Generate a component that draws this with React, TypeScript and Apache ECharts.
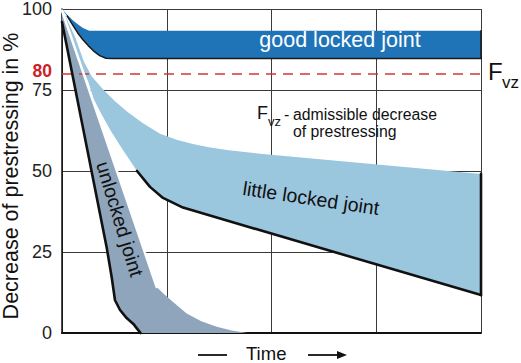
import React, { useEffect, useRef } from "react";
import * as echarts from "echarts";

// ---- data (x: time in grid units 0..4, y: decrease of prestressing in %) ----
const xTicks = [0, 1, 2, 3, 4];
const yTicks = [0, 25, 50, 75, 100];
const admissibleLevel = 80;

const goodUpper = [[0, 100], [0.05, 98.2], [0.1, 96.6], [0.15, 95.3], [0.2, 94.1], [0.26, 93.3], [4, 93.3]];
const goodLower = [[0, 100], [0.05, 97.8], [0.1, 95.2], [0.15, 92.6], [0.2, 90.5], [0.25, 88.7], [0.3, 87.1], [0.36, 85.6], [0.42, 84.8], [0.48, 84.7], [4, 84.7]];

const littleUpper = [[0.01, 99.4], [0.124, 91.4], [0.21, 83.7], [0.286, 79.1], [0.391, 75.2], [0.506, 71.5], [0.62, 68.4], [0.773, 64.7], [0.936, 61.5], [1.1, 59.6], [1.25, 58.3], [1.4, 57.3], [1.575, 56.5], [1.89, 55.3], [4, 49.1]];
const littleLower = [[0.01, 99.4], [0.11, 89.9], [0.19, 82.2], [0.25, 77.6], [0.3, 72.4], [0.372, 67.8], [0.468, 62.3], [0.563, 57.4], [0.716, 50], [0.84, 45.1], [0.964, 41.7], [1.155, 38.7], [4, 11.7]];

const unlockedLeft = [[0, 96], [0.426, 26.5], [0.474, 17.3], [0.506, 10.1], [0.554, 7.1], [0.617, 4.6], [0.681, 2.8], [0.72, 1.2], [0.75, 0]];
const unlockedRight = [[0, 99.5], [0.904, 14.2], [0.967, 12.2], [1.08, 9], [1.19, 6.0], [1.33, 3.6], [1.477, 1.9], [1.62, 0.8], [1.77, 0]];

const FONT = '"Liberation Sans", Arial, sans-serif';

function polygonSeries(name: string, points: number[][], fill: string, z: number) {
  return {
    name,
    type: "custom",
    coordinateSystem: "cartesian2d",
    z,
    silent: true,
    clip: false,
    data: [points[0]],
    renderItem: (_p: any, api: any) => ({
      type: "polygon",
      shape: { points: points.map((p) => api.coord(p)) },
      style: { fill, stroke: "none" },
    }),
  };
}

function lineSeries(name: string, points: number[][], color: string, width: number, z: number) {
  return {
    name,
    type: "line",
    data: points,
    symbol: "none",
    showSymbol: false,
    silent: true,
    clip: false,
    z,
    lineStyle: { color, width, cap: "round", join: "round" },
  };
}

export default function App() {
  const ref = useRef<HTMLDivElement>(null);
  useEffect(() => {
    document.body.style.margin = "0";
    const chart = echarts.init(ref.current!, null, { renderer: "svg" });
    const goodPoly = [...goodUpper, ...goodLower.slice().reverse()];
    const littlePoly = [...littleUpper, ...littleLower.slice().reverse()];
    const unlockedPoly = [...unlockedLeft, ...unlockedRight.slice().reverse()];
    chart.setOption({
      animation: false,
      backgroundColor: "#ffffff",
      grid: { left: 62, right: 40, top: 7, bottom: 30 },
      xAxis: {
        type: "value",
        min: xTicks[0],
        max: xTicks[xTicks.length - 1],
        interval: 1,
        axisLine: { show: true, onZero: false, lineStyle: { color: "#111", width: 2 } },
        axisTick: { show: false },
        axisLabel: { show: false },
        splitLine: { show: true, lineStyle: { color: "#3a3a3a", width: 1 } },
      },
      yAxis: {
        type: "value",
        min: yTicks[0],
        max: yTicks[yTicks.length - 1],
        interval: 25,
        axisLine: { show: true, onZero: false, lineStyle: { color: "#111", width: 1.5 } },
        axisTick: { show: false },
        axisLabel: { color: "#222", fontSize: 18, fontFamily: FONT, margin: 10, padding: [3, 0, 0, 0] },
        splitLine: { show: true, lineStyle: { color: "#3a3a3a", width: 1 } },
      },
      series: [
        {
          name: "admissible",
          type: "line",
          data: [],
          z: 1,
          silent: true,
          markLine: {
            symbol: "none",
            silent: true,
            lineStyle: { color: "#d3363b", type: [10, 7], width: 1.6 },
            label: {
              position: "start",
              formatter: String(admissibleLevel),
              color: "#cc2229",
              fontWeight: "bold",
              fontSize: 17.5,
              fontFamily: FONT,
              distance: 10,
              offset: [0, -3],
            },
            data: [{ yAxis: admissibleLevel }],
          },
        },
        polygonSeries("good locked joint", goodPoly, "#1f74b8", 2),
        polygonSeries("little locked joint", littlePoly, "#9ac6de", 3),
        polygonSeries("unlocked joint", unlockedPoly, "#8fa5bb", 4),
        lineSeries("gap", unlockedRight.slice(0, 2), "#ffffff", 2.5, 5),
        lineSeries("good edge", goodLower.slice(1), "#1a1a1a", 1.5, 6),
        lineSeries("good right", [[4, goodLower[goodLower.length - 1][1]], [4, goodUpper[goodUpper.length - 1][1]]], "#1a1a1a", 1.5, 6),
        lineSeries("little edge", littleLower.slice(8), "#111", 2.6, 6),
        lineSeries("little right", [[4, littleLower[littleLower.length - 1][1]], [4, littleUpper[littleUpper.length - 1][1]]], "#111", 2.6, 6),
        lineSeries("unlocked edge", unlockedLeft, "#111", 2.6, 6),
      ],
      graphic: [
        { type: "text", x: 340, y: 40, z: 100, style: { text: "good locked joint", fill: "#ffffff", fontSize: 21.5, fontFamily: FONT, align: "center", verticalAlign: "middle" } },
        { type: "text", x: 311, y: 198, rotation: -0.148, z: 100, style: { text: "little locked joint", fill: "#111", fontSize: 19.5, fontFamily: FONT, align: "center", verticalAlign: "middle" } },
        { type: "text", x: 120, y: 219, rotation: -1.274, z: 100, style: { text: "unlocked joint", fill: "#111", fontSize: 19.5, fontFamily: FONT, align: "center", verticalAlign: "middle" } },
        { type: "text", x: 257, y: 113, z: 100, style: { text: "F", fill: "#111", fontSize: 18, fontFamily: FONT, align: "left", verticalAlign: "middle" } },
        { type: "text", x: 268, y: 121, z: 100, style: { text: "vz", fill: "#111", fontSize: 13, fontFamily: FONT, align: "left", verticalAlign: "middle" } },
        { type: "text", x: 284, y: 114, z: 100, style: { text: "-", fill: "#111", fontSize: 16, fontFamily: FONT, align: "left", verticalAlign: "middle" } },
        { type: "text", x: 293, y: 114, z: 100, style: { text: "admissible decrease", fill: "#111", fontSize: 15.8, fontFamily: FONT, align: "left", verticalAlign: "middle" } },
        { type: "text", x: 293, y: 131, z: 100, style: { text: "of prestressing", fill: "#111", fontSize: 15.8, fontFamily: FONT, align: "left", verticalAlign: "middle" } },
        { type: "text", x: 488, y: 71, z: 100, style: { text: "F", fill: "#111", fontSize: 24, fontFamily: FONT, align: "left", verticalAlign: "middle" } },
        { type: "text", x: 502, y: 82, z: 100, style: { text: "vz", fill: "#111", fontSize: 17, fontFamily: FONT, align: "left", verticalAlign: "middle" } },
        { type: "text", x: 11, y: 176, rotation: Math.PI / 2, z: 100, style: { text: "Decrease of prestressing in %", fill: "#111", fontSize: 21.5, lineHeight: 21, fontFamily: FONT, align: "center", verticalAlign: "middle" } },
        { type: "line", z: 100, shape: { x1: 198, y1: 355, x2: 227, y2: 355 }, style: { stroke: "#111", lineWidth: 1.8 } },
        { type: "text", x: 246, y: 353.5, z: 100, style: { text: "Time", fill: "#111", fontSize: 18.5, lineHeight: 17, fontFamily: FONT, align: "left", verticalAlign: "middle" } },
        { type: "line", z: 100, shape: { x1: 308, y1: 355, x2: 340, y2: 355 }, style: { stroke: "#111", lineWidth: 1.8 } },
        { type: "polygon", z: 100, shape: { points: [[337, 351], [347, 355], [337, 359]] }, style: { fill: "#111" } },
      ],
    });
    return () => chart.dispose();
  }, []);
  return <div ref={ref} style={{ position: "fixed", left: 0, top: 0, width: 521, height: 363 }} />;
}
